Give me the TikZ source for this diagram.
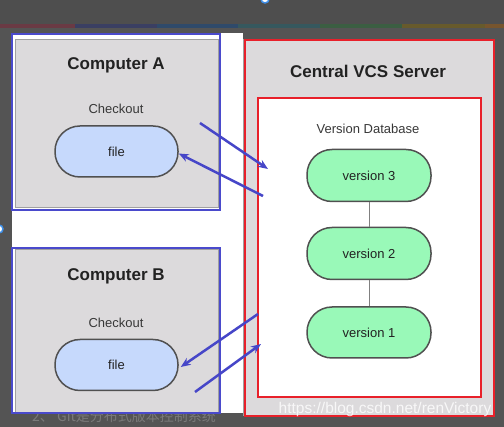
\documentclass[tikz,border=0pt]{standalone}
\usepackage{fontspec}
\setmainfont{Liberation Sans}
\newfontfamily\cjkfont{Noto Sans CJK SC}
\usetikzlibrary{arrows.meta}
\definecolor{bgdark}{HTML}{545454}
\definecolor{bgdark2}{HTML}{4E4E4E}
\definecolor{pagegray}{HTML}{DCDADC}
\definecolor{boxedge}{HTML}{A0A0A0}
\definecolor{frameblue}{HTML}{4A4ACC}
\definecolor{framered}{HTML}{E8202A}
\definecolor{fileblue}{HTML}{C6D9FC}
\definecolor{vergreen}{HTML}{99F9B8}
\definecolor{pilledge}{HTML}{505050}
\definecolor{arrowblue}{HTML}{4646C8}
\definecolor{textdark}{HTML}{222222}
\definecolor{captiongray}{HTML}{7A7A7A}
\definecolor{dotblue}{HTML}{3D8EE8}
\definecolor{sred}{HTML}{6A3A44}
\definecolor{snavy}{HTML}{3A3F62}
\definecolor{sblue}{HTML}{2F4A6A}
\definecolor{steal}{HTML}{36585E}
\definecolor{sgreen}{HTML}{3B5E42}
\definecolor{syellow}{HTML}{675A2C}
\definecolor{sorange}{HTML}{77552E}
\begin{document}
\begin{tikzpicture}[x=1pt,y=-1pt,
  graybox/.style={draw=boxedge, fill=pagegray, line width=1pt, inner sep=0pt},
  blueframe/.style={draw=frameblue, line width=2pt, inner sep=0pt},
  redframe/.style={draw=framered, line width=2pt, inner sep=0pt},
  dbbox/.style={draw=framered, fill=white, line width=2pt, inner sep=0pt},
  titletext/.style={font=\bfseries\fontsize{17}{20}\selectfont, text=textdark, inner sep=0pt},
  smalltext/.style={font=\fontsize{13}{15}\selectfont, text=textdark!90, inner sep=0pt},
  filepill/.style={draw=pilledge, fill=fileblue, line width=1.5pt, rounded corners=25pt,
    minimum width=123pt, minimum height=51pt, inner sep=0pt, font=\fontsize{13}{15}\selectfont, text=textdark},
  verpill/.style={draw=pilledge, fill=vergreen, line width=1.5pt, rounded corners=25pt,
    minimum width=124pt, minimum height=52pt, inner sep=0pt, font=\fontsize{13}{15}\selectfont, text=textdark},
  link/.style={draw=gray, line width=1pt},
  syncarrow/.style={draw=arrowblue, line width=2.5pt, -{Stealth[length=10pt,width=8pt]}}
]
\useasboundingbox (0,0) rectangle (504,427);
\fill[bgdark] (0,0) rectangle (504,427);
\fill[bgdark2] (0,0) rectangle (504,24);
% top colour strip
\fill[sred] (0,24) rectangle (75,28);
\fill[snavy] (75,24) rectangle (157,28);
\fill[sblue] (157,24) rectangle (238,28);
\fill[steal] (238,24) rectangle (320,28);
\fill[sgreen] (320,24) rectangle (402,28);
\fill[syellow] (402,24) rectangle (485,28);
\fill[sorange] (485,24) rectangle (504,28);
% small UI dots
\draw[dotblue, fill=white, line width=1.5pt] (265,-1) circle (4);
\draw[dotblue, fill=white, line width=1.5pt] (-1,229) circle (4);
% caption behind page
\node[font=\cjkfont\fontsize{14}{16}\selectfont, text=captiongray, anchor=west, inner sep=0pt] (caption) at (32,416) {2、 Git是分布式版本控制系统};
% page
\fill[white] (12,33) rectangle (243,413);
% Computer A
\node[graybox, minimum width=203pt, minimum height=168pt] (compA) at (116.5,124) {};
\node[blueframe, minimum width=208pt, minimum height=176pt] (frameA) at (116,122) {};
\node[titletext] (titleA) at (116,65) {Computer A};
\node[smalltext] (checkA) at (116,109) {Checkout};
\node[filepill] (fileA) at (116.5,151.5) {file};
% Computer B
\node[graybox, minimum width=203pt, minimum height=163pt] (compB) at (116.5,331.5) {};
\node[blueframe, minimum width=208pt, minimum height=165pt] (frameB) at (116,330.5) {};
\node[titletext] (titleB) at (116,276) {Computer B};
\node[smalltext] (checkB) at (116,323) {Checkout};
\node[filepill] (fileB) at (116.5,365) {file};
% Server
\node[graybox, minimum width=251pt, minimum height=376pt] (server) at (368.5,228) {};
\node[redframe, minimum width=249pt, minimum height=376pt] (serverframe) at (369.5,228) {};
\node[titletext] (titleS) at (368,71) {Central VCS Server};
\node[dbbox, minimum width=223pt, minimum height=299pt] (db) at (369.5,247.5) {};
\node[smalltext] (dblabel) at (368,129) {Version Database};
\node[verpill] (v3) at (369,175.5) {version 3};
\node[verpill] (v2) at (369,253.5) {version 2};
\node[verpill, minimum height=51pt] (v1) at (369,332.5) {version 1};
\draw[link] (v3.south) -- (v2.north);
\draw[link] (v2.south) -- (v1.north);
% arrows
\coordinate (a1s) at (200,123);
\coordinate (a1e) at (268,169);
\coordinate (a2s) at (263,196);
\coordinate (a3s) at (258,314);
\coordinate (a4s) at (195,392);
\coordinate (a4e) at (261,344);
\draw[syncarrow] (a1s) -- (a1e);
\draw[syncarrow] (a2s) -- ([yshift=-2pt]fileA.east);
\draw[syncarrow] (a3s) -- ([xshift=2pt,yshift=-2pt]fileB.east);
\draw[syncarrow] (a4s) -- (a4e);
% watermark
\node[font=\fontsize{15.5}{18}\selectfont, text=white, opacity=0.8, inner sep=0pt] (wm) at (385,409) {https://blog.csdn.net/renVictory};
\end{tikzpicture}
\end{document}
